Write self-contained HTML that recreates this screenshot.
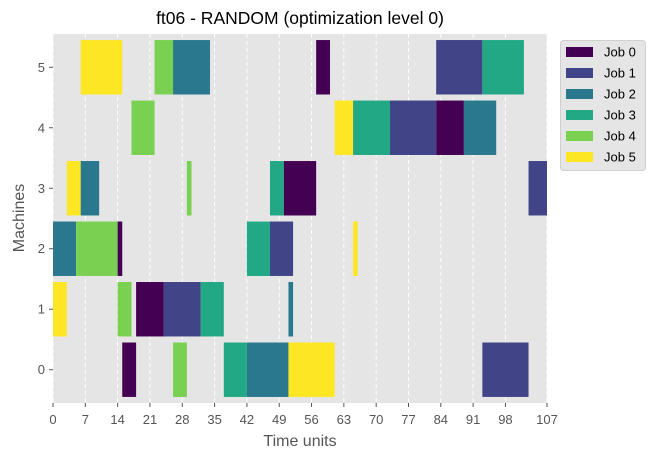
<!DOCTYPE html>
<html><head><meta charset="utf-8"><style>
body{margin:0;background:#fff;}
svg{display:block;font-family:"Liberation Sans","DejaVu Sans",sans-serif;}
</style></head><body>
<svg id="chart" width="654" height="460">
<rect x="0" y="0" width="654" height="460" fill="#fff"/>
</svg>
<script>
const jobNames = ["Job 0","Job 1","Job 2","Job 3","Job 4","Job 5"];
const jobColors = ["#440154","#414487","#2a788e","#22a884","#7ad151","#fde725"];
const opMachine = [5,5,5,5,5,5, 4,4,4,4,4,4, 3,3,3,3,3,3, 2,2,2,2,2,2, 1,1,1,1,1,1, 0,0,0,0,0,0];
const opJob     = [5,4,2,0,1,3, 4,5,3,1,0,2, 5,2,4,3,0,1, 2,4,0,3,1,5, 5,4,0,1,3,2, 0,4,3,2,5,1];
const opStart   = [6,22,26,57,83,93, 17,61,65,73,83,89, 3,6,29,47,50,103, 0,5,14,42,47,65, 0,14,18,24,32,51, 15,26,37,42,51,93];
const opEnd     = [15,26,34,60,93,102, 22,65,73,83,89,96, 6,10,30,50,57,107, 5,14,15,47,52,66, 3,17,24,32,37,52, 18,29,42,51,61,103];
const xTicks = [0,7,14,21,28,35,42,49,56,63,70,77,84,91,98,107];
const yTicks = [0,1,2,3,4,5];
</script>
<script>
const NS="http://www.w3.org/2000/svg";
const svg=document.getElementById('chart');
const L=53,R=547,T=34,B=403,xMin=0,xMax=107,yMin=-0.55,yMax=5.55;
const xs=v=>L+(v-xMin)/(xMax-xMin)*(R-L);
const ys=v=>B-(v-yMin)/(yMax-yMin)*(B-T);
function mk(tag,attrs,parent){const e=document.createElementNS(NS,tag);for(const k in attrs)e.setAttribute(k,attrs[k]);(parent||svg).appendChild(e);return e;}
const bg=mk('rect',{x:L,y:T,width:R-L,height:B-T,fill:'#e5e5e5'});


xTicks.forEach(t=>{
  const g=mk('line',{x1:xs(t),x2:xs(t),y1:T,y2:B,stroke:'#fff','stroke-dasharray':'4,3','stroke-width':1});
  
  
  const tk=mk('line',{x1:xs(t),x2:xs(t),y1:B,y2:B+4,stroke:'#555'});
  
  
  const lb=mk('text',{x:xs(t),y:424,'text-anchor':'middle','font-size':13,fill:'#555'});
  lb.textContent=t;
  
  
});
yTicks.forEach(t=>{
  const tk=mk('line',{x1:L-4,x2:L,y1:ys(t),y2:ys(t),stroke:'#555'});
  
  
  const lb=mk('text',{x:L-8,y:ys(t)+4.5,'text-anchor':'end','font-size':13,fill:'#555'});
  lb.textContent=t;
  
  
});
const n=Math.min(opMachine.length,opJob.length,opStart.length,opEnd.length);
for(let i=0;i<n;i++){
  const m=opMachine[i];
  const r=mk('rect',{x:xs(opStart[i]),y:ys(m+0.45),width:xs(opEnd[i])-xs(opStart[i]),height:ys(m-0.45)-ys(m+0.45),fill:jobColors[opJob[i]]});
  
  
}
const title=mk('text',{x:300,y:24,'text-anchor':'middle','font-size':17.5,fill:'#000'});
title.textContent='ft06 - RANDOM (optimization level 0)';


const xl=mk('text',{x:300,y:446,'text-anchor':'middle','font-size':16,fill:'#555'});
xl.textContent='Time units';


const yl=mk('text',{x:24,y:218,'text-anchor':'middle','font-size':16,fill:'#555',transform:'rotate(-90 24 218)'});
yl.textContent='Machines';


const lg=mk('rect',{x:560.5,y:40.5,width:85,height:130,rx:3,fill:'#e5e5e5',stroke:'#d0d0d0'});


jobNames.forEach((nm,j)=>{
  const cy=52+j*21;
  const p=mk('rect',{x:566,y:cy-5,width:27,height:10,fill:jobColors[j]});
  
  
  const t=mk('text',{x:604,y:cy+4.5,'font-size':13,fill:'#000'});
  t.textContent=nm;
  
  
});
</script>
</body></html>
